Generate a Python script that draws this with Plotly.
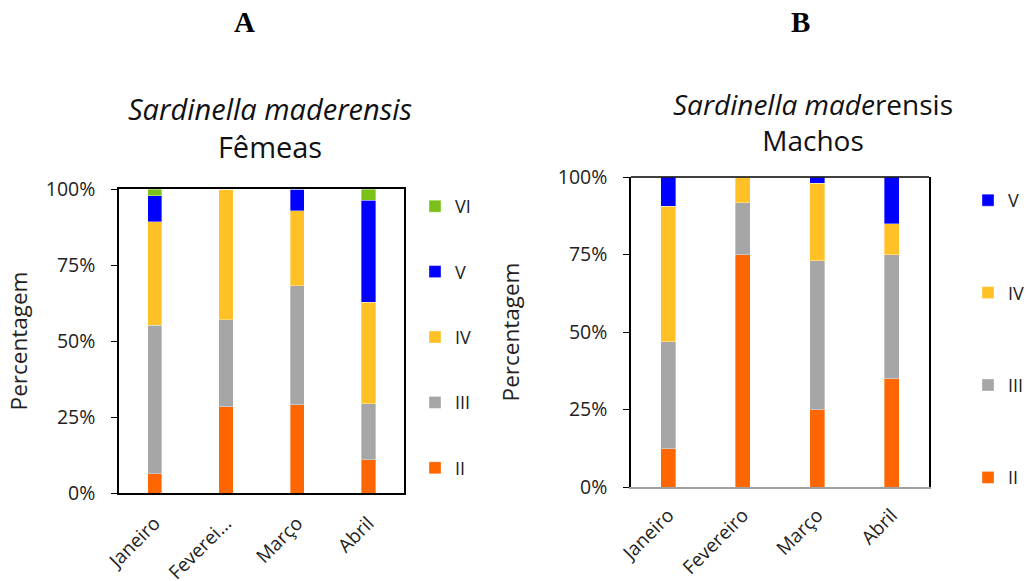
import plotly.graph_objects as go

months_a = ["Janeiro", "Feverei...", "Março", "Abril"]
months_b = ["Janeiro", "Fevereiro", "Março", "Abril"]

# Fêmeas (A), percent by stage
fem_II = [6.4, 28.3, 29.1, 10.9]
fem_III = [48.8, 28.7, 39.1, 18.4]
fem_IV = [34.0, 43.0, 24.6, 33.5]
fem_V = [8.6, 0.0, 7.2, 33.5]
fem_VI = [2.2, 0.0, 0.0, 3.7]

# Machos (B), percent by stage
mac_II = [12.3, 75.0, 25.0, 35.0]
mac_III = [34.5, 16.7, 48.0, 40.0]
mac_IV = [43.7, 8.3, 25.0, 10.0]
mac_V = [9.5, 0.0, 2.0, 15.0]

tick_vals = [0, 25, 50, 75, 100]
tick_text = ["0%", "25%", "50%", "75%", "100%"]

colors = {"II": "#FF6600", "III": "#A6A6A6", "IV": "#FFC125", "V": "#0000FF", "VI": "#7CC11A"}
rank = {"VI": 1, "V": 2, "IV": 3, "III": 4, "II": 5}
FONT = "Open Sans, sans-serif"

fig = go.Figure()

fem = [("II", fem_II), ("III", fem_III), ("IV", fem_IV), ("V", fem_V), ("VI", fem_VI)]
mac = [("II", mac_II), ("III", mac_III), ("IV", mac_IV), ("V", mac_V)]

for name, vals in fem:
    fig.add_trace(go.Bar(x=months_a, y=vals, name=name, marker_color=colors[name],
                         marker_line=dict(color="rgba(255,255,255,0.6)", width=0.6),
                         width=0.2, xaxis="x", yaxis="y", legend="legend",
                         legendgroup="a" + name, legendrank=rank[name]))
for name, vals in mac:
    fig.add_trace(go.Bar(x=months_b, y=vals, name=name, marker_color=colors[name],
                         marker_line=dict(color="rgba(255,255,255,0.6)", width=0.6),
                         width=0.2, xaxis="x2", yaxis="y2", legend="legend2",
                         legendgroup="b" + name, legendrank=rank[name]))

tickfont = dict(family=FONT, size=19.5, color="#222")
xtickfont = dict(family=FONT, size=19, color="#222")
title_font = dict(family=FONT, size=22.5, color="#222")

fig.update_layout(
    width=1030, height=581,
    margin=dict(l=0, r=0, t=0, b=0, autoexpand=False),
    paper_bgcolor="white", plot_bgcolor="white",
    barmode="stack",
    font=dict(family=FONT, color="#222"),
    xaxis=dict(domain=[119 / 1030, 404 / 1030], anchor="y", showline=True, linecolor="black",
               linewidth=1.5, mirror=True, tickangle=-45, ticks="", automargin=False,
               ticklabelstandoff=10, tickfont=xtickfont),
    yaxis=dict(domain=[1 - 493 / 581, 1 - 189 / 581], anchor="x", range=[0, 100],
               tickmode="array", tickvals=tick_vals, ticktext=tick_text, showgrid=False,
               showline=True, linecolor="black", linewidth=1.5, mirror=True,
               ticks="outside", ticklen=6, tickcolor="black", automargin=False,
               ticklabelstandoff=12,
               title=dict(text="Percentagem", font=title_font, standoff=12),
               tickfont=tickfont),
    xaxis2=dict(domain=[631 / 1030, 929 / 1030], anchor="y2", showline=True, linecolor="#A0A0A0",
                linewidth=1.5, tickangle=-45, ticks="", automargin=False,
                ticklabelstandoff=8, tickfont=xtickfont),
    yaxis2=dict(domain=[1 - 487 / 581, 1 - 177 / 581], anchor="x2", range=[0, 100],
                tickmode="array", tickvals=tick_vals, ticktext=tick_text, showgrid=False,
                showline=True, linecolor="black", linewidth=1.5, mirror=True,
                ticks="outside", ticklen=6, tickcolor="black", automargin=False,
                ticklabelstandoff=12,
                title=dict(text="Percentagem", font=title_font, standoff=32),
                tickfont=tickfont),
    legend=dict(x=415 / 1030, y=1 - 188 / 581, xanchor="left", yanchor="top",
                traceorder="grouped", tracegroupgap=39,
                font=dict(family=FONT, size=18, color="#222"), itemwidth=30,
                bgcolor="rgba(0,0,0,0)"),
    legend2=dict(x=968 / 1030, y=1 - 182 / 581, xanchor="left", yanchor="top",
                 traceorder="grouped", tracegroupgap=66,
                 font=dict(family=FONT, size=18, color="#222"), itemwidth=30,
                 bgcolor="rgba(0,0,0,0)"),
)

# top border of panel B
fig.add_shape(type="line", xref="x2 domain", yref="y2 domain", x0=0, x1=1, y0=1, y1=1,
              line=dict(color="black", width=1.5))

ann = dict(xref="paper", yref="paper", showarrow=False, xanchor="center", yanchor="middle")
fig.add_annotation(text="<b>A</b>", x=244 / 1030, y=1 - 22 / 581,
                   font=dict(family="Liberation Serif", size=29, color="black"), **ann)
fig.add_annotation(text="<b>B</b>", x=800 / 1030, y=1 - 22 / 581,
                   font=dict(family="Liberation Serif", size=29, color="black"), **ann)
fig.add_annotation(text="<i>Sardinella maderensis</i><br>Fêmeas", x=270 / 1030, y=1 - 128 / 581,
                   font=dict(family=FONT, size=29, color="#111"), **ann)
fig.add_annotation(text="<i>Sardinella made</i>rensis<br>Machos", x=813 / 1030, y=1 - 122 / 581,
                   font=dict(family=FONT, size=28, color="#111"), **ann)

fig.write_html("out.html", config={"displayModeBar": False},
               post_script="document.body.style.margin='0';")
